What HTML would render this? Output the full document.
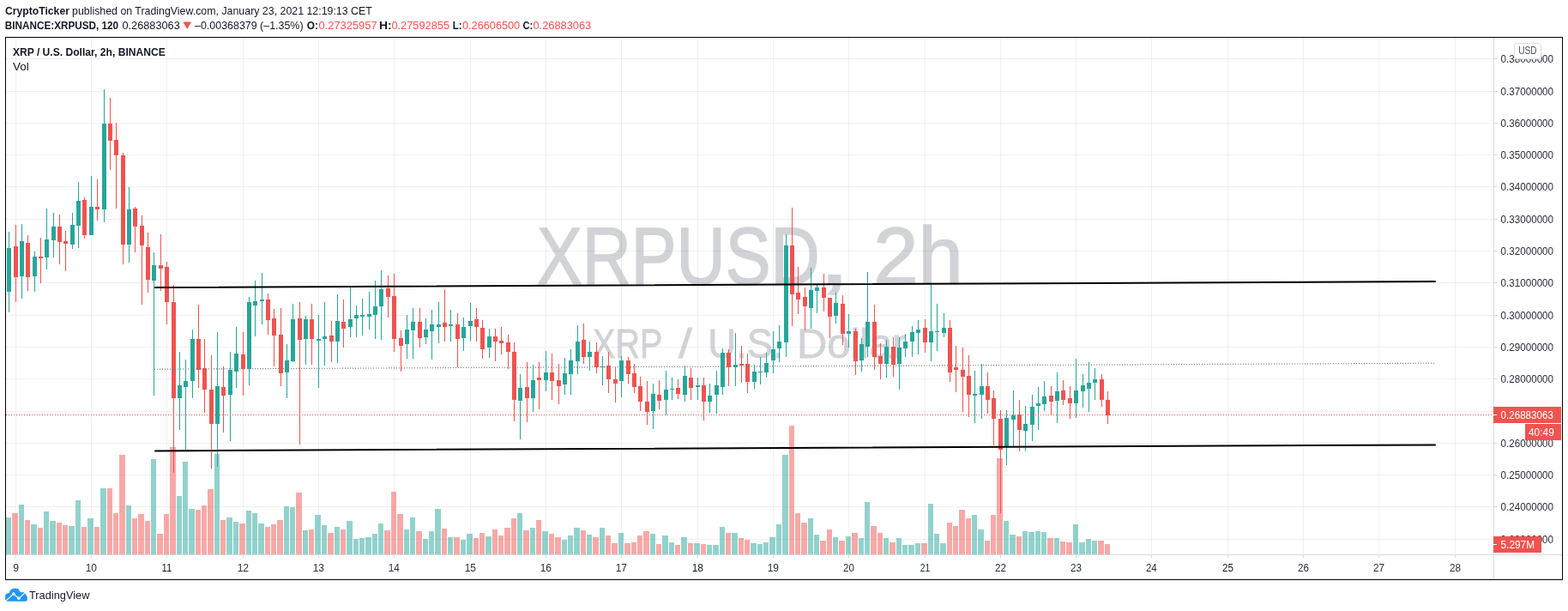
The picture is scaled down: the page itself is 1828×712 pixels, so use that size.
<!DOCTYPE html><html><head><meta charset="utf-8"><title>XRPUSD 2h chart</title>
<style>html,body{margin:0;padding:0;background:#fff;width:1828px;height:712px;overflow:hidden}svg{display:block}text{font-family:'Liberation Sans', Arial, sans-serif}</style></head><body>
<svg width="1828" height="712" viewBox="0 0 1828 712">
<rect x="0" y="0" width="1828" height="712" fill="#ffffff"/>
<text x="6.10" y="17.10" font-size="12.86" fill="#131722" font-weight="bold" textLength="74.78" lengthAdjust="spacingAndGlyphs">CryptoTicker</text>
<text x="84.01" y="17.10" font-size="12.86" fill="#131722" textLength="349.78" lengthAdjust="spacingAndGlyphs">published on TradingView.com, January 23, 2021 12:19:13 CET</text>
<text x="5.82" y="33.70" font-size="12.57" fill="#131722" font-weight="bold" textLength="132.27" lengthAdjust="spacingAndGlyphs">BINANCE:XRPUSD, 120</text>
<text x="142.50" y="33.70" font-size="12.57" fill="#131722" textLength="67.26" lengthAdjust="spacingAndGlyphs">0.26883063</text>
<path d="M213.4 25.6H223L218.2 33.9Z" fill="#ef5350"/>
<text x="227.00" y="33.70" font-size="12.57" fill="#131722" textLength="126.57" lengthAdjust="spacingAndGlyphs">–0.00368379 (–1.35%)</text>
<text x="357.82" y="33.70" font-size="12.57" fill="#131722" font-weight="bold" textLength="13.12" lengthAdjust="spacingAndGlyphs">O:</text>
<text x="371.50" y="33.70" font-size="12.57" fill="#ef5350" textLength="68.15" lengthAdjust="spacingAndGlyphs">0.27325957</text>
<text x="442.07" y="33.70" font-size="12.57" fill="#131722" font-weight="bold" textLength="14.67" lengthAdjust="spacingAndGlyphs">H:</text>
<text x="456.40" y="33.70" font-size="12.57" fill="#ef5350" textLength="67.74" lengthAdjust="spacingAndGlyphs">0.27592855</text>
<text x="527.83" y="33.70" font-size="12.57" fill="#131722" font-weight="bold" textLength="10.88" lengthAdjust="spacingAndGlyphs">L:</text>
<text x="539.00" y="33.70" font-size="12.57" fill="#ef5350" textLength="67.19" lengthAdjust="spacingAndGlyphs">0.26606500</text>
<text x="609.54" y="33.70" font-size="12.57" fill="#131722" font-weight="bold" textLength="11.72" lengthAdjust="spacingAndGlyphs">C:</text>
<text x="621.50" y="33.70" font-size="12.57" fill="#ef5350" textLength="67.66" lengthAdjust="spacingAndGlyphs">0.26883063</text>
<text x="14.89" y="64.80" font-size="12.29" fill="#131722" font-weight="bold" textLength="177.88" lengthAdjust="spacingAndGlyphs">XRP / U.S. Dollar, 2h, BINANCE</text>
<text x="14.94" y="81.60" font-size="12.86" fill="#131722" textLength="18.72" lengthAdjust="spacingAndGlyphs">Vol</text>
<text x="625.92" y="330.90" font-size="95.43" fill="#d2d3d7" textLength="329.66" lengthAdjust="spacingAndGlyphs" stroke="#d2d3d7" stroke-width="1.7">XRPUSD</text>
<text x="954.30" y="330.90" font-size="95.43" fill="#d2d3d7" textLength="36.80" lengthAdjust="spacingAndGlyphs" stroke="#d2d3d7" stroke-width="1.7">,</text>
<text x="1018.17" y="330.90" font-size="95.43" fill="#d2d3d7" textLength="104.53" lengthAdjust="spacingAndGlyphs" stroke="#d2d3d7" stroke-width="1.7">2h</text>
<text x="691.11" y="417.00" font-size="48.71" fill="#d2d3d7" textLength="81.27" lengthAdjust="spacingAndGlyphs" stroke="#d2d3d7" stroke-width="0.8">XRP</text>
<text x="791.00" y="417.00" font-size="48.71" fill="#d2d3d7" textLength="15.90" lengthAdjust="spacingAndGlyphs" stroke="#d2d3d7" stroke-width="0.8">/</text>
<text x="825.29" y="417.00" font-size="48.71" fill="#d2d3d7" textLength="88.46" lengthAdjust="spacingAndGlyphs" stroke="#d2d3d7" stroke-width="0.8">U.S.</text>
<text x="928.99" y="417.00" font-size="48.71" fill="#d2d3d7" textLength="127.62" lengthAdjust="spacingAndGlyphs" stroke="#d2d3d7" stroke-width="0.8">Dollar</text>
<path d="M7 68.5H1741M7 106.5H1741M7 143.5H1741M7 180.5H1741M7 217.5H1741M7 255.5H1741M7 292.5H1741M7 329.5H1741M7 367.5H1741M7 404.5H1741M7 441.5H1741M7 479.5H1741M7 516.5H1741M7 553.5H1741M7 590.5H1741M7 628.5H1741M18.5 44V646M106.5 44V646M194.5 44V646M283.5 44V646M371.5 44V646M459.5 44V646M548.5 44V646M636.5 44V646M724.5 44V646M813.5 44V646M901.5 44V646M989.5 44V646M1078.5 44V646M1166.5 44V646M1254.5 44V646M1342.5 44V646M1431.5 44V646M1519.5 44V646M1607.5 44V646M1696.5 44V646" stroke="rgba(42,46,57,0.07)" stroke-width="1" fill="none"/>
<path d="M7 603H13V646H7ZM22 588H28V646H22ZM36 611H43V646H36ZM51 596H57V646H51ZM58 607H65V646H58ZM80 613H87V646H80ZM88 583H94V646H88ZM102 604H109V646H102ZM117 569H124V646H117ZM147 589H153V646H147ZM176 535H182V646H176ZM206 578H212V646H206ZM213 538H219V646H213ZM220 593H227V646H220ZM250 529H256V646H250ZM264 603H271V646H264ZM272 608H278V646H272ZM287 595H293V646H287ZM294 598H300V646H294ZM301 610H308V646H301ZM331 590H337V646H331ZM338 591H344V646H338ZM353 618H359V646H353ZM367 600H374V646H367ZM375 612H381V646H375ZM390 614H396V646H390ZM404 607H411V646H404ZM412 628H418V646H412ZM419 627H425V646H419ZM426 626H433V646H426ZM434 622H440V646H434ZM441 610H447V646H441ZM471 617H477V646H471ZM478 603H484V646H478ZM493 628H499V646H493ZM500 619H506V646H500ZM507 593H514V646H507ZM522 626H528V646H522ZM537 629H543V646H537ZM544 622H551V646H544ZM566 625H573V646H566ZM603 598H609V646H603ZM618 615H624V646H618ZM632 619H639V646H632ZM655 629H661V646H655ZM662 624H668V646H662ZM669 615H676V646H669ZM684 623H690V646H684ZM699 615H705V646H699ZM721 621H727V646H721ZM758 622H764V646H758ZM772 624H779V646H772ZM780 632H786V646H780ZM794 626H801V646H794ZM809 633H816V646H809ZM824 635H830V646H824ZM831 635H838V646H831ZM839 614H845V646H839ZM853 621H860V646H853ZM875 633H882V646H875ZM883 634H889V646H883ZM890 632H896V646H890ZM897 626H904V646H897ZM905 611H911V646H905ZM912 530H919V646H912ZM942 604H948V646H942ZM949 623H955V646H949ZM971 626H977V646H971ZM986 625H992V646H986ZM1001 627H1007V646H1001ZM1008 585H1014V646H1008ZM1030 627H1036V646H1030ZM1045 627H1051V646H1045ZM1052 635H1058V646H1052ZM1059 635H1066V646H1059ZM1067 633H1073V646H1067ZM1082 587H1088V646H1082ZM1089 622H1095V646H1089ZM1096 633H1103V646H1096ZM1133 600H1139V646H1133ZM1140 617H1147V646H1140ZM1170 607H1176V646H1170ZM1177 623H1184V646H1177ZM1192 619H1198V646H1192ZM1199 620H1206V646H1199ZM1207 619H1213V646H1207ZM1214 620H1220V646H1214ZM1229 627H1235V646H1229ZM1251 611H1257V646H1251ZM1258 632H1265V646H1258ZM1266 628H1272V646H1266ZM1273 630H1279V646H1273Z" fill="rgba(38,166,154,0.5)"/>
<path d="M14 598H21V646H14ZM29 606H35V646H29ZM44 615H50V646H44ZM66 609H72V646H66ZM73 612H79V646H73ZM95 614H101V646H95ZM110 614H116V646H110ZM125 569H131V646H125ZM132 598H138V646H132ZM139 530H146V646H139ZM154 604H160V646H154ZM161 599H168V646H161ZM169 607H175V646H169ZM183 622H190V646H183ZM191 599H197V646H191ZM198 521H205V646H198ZM228 594H234V646H228ZM235 589H241V646H235ZM242 570H249V646H242ZM257 606H263V646H257ZM279 610H286V646H279ZM309 614H315V646H309ZM316 611H322V646H316ZM323 606H330V646H323ZM345 574H352V646H345ZM360 617H366V646H360ZM382 621H389V646H382ZM397 617H403V646H397ZM448 618H455V646H448ZM456 573H462V646H456ZM463 599H470V646H463ZM485 619H492V646H485ZM515 616H521V646H515ZM529 626H536V646H529ZM552 627H558V646H552ZM559 621H565V646H559ZM574 617H580V646H574ZM581 624H587V646H581ZM588 615H595V646H588ZM596 604H602V646H596ZM610 618H617V646H610ZM625 606H631V646H625ZM640 622H646V646H640ZM647 626H654V646H647ZM677 618H683V646H677ZM691 626H698V646H691ZM706 624H712V646H706ZM713 633H720V646H713ZM728 633H735V646H728ZM736 632H742V646H736ZM743 624H749V646H743ZM750 619H757V646H750ZM765 634H771V646H765ZM787 635H793V646H787ZM802 633H808V646H802ZM817 634H823V646H817ZM846 621H852V646H846ZM861 627H867V646H861ZM868 629H874V646H868ZM920 496H926V646H920ZM927 598H933V646H927ZM934 609H941V646H934ZM956 630H963V646H956ZM964 617H970V646H964ZM978 630H985V646H978ZM993 621H1000V646H993ZM1015 613H1022V646H1015ZM1023 621H1029V646H1023ZM1037 632H1044V646H1037ZM1074 633H1081V646H1074ZM1104 609H1110V646H1104ZM1111 613H1117V646H1111ZM1118 594H1125V646H1118ZM1126 604H1132V646H1126ZM1148 630H1154V646H1148ZM1155 600H1161V646H1155ZM1162 534H1169V646H1162ZM1185 625H1191V646H1185ZM1221 627H1228V646H1221ZM1236 631H1242V646H1236ZM1243 632H1250V646H1243ZM1280 630H1287V646H1280ZM1288 634H1294V646H1288Z" fill="rgba(239,83,80,0.5)"/>
<path d="M10 270h1V289h-1ZM8 289h5V340h-5ZM10 340h1V364h-1ZM25 261h1V281h-1ZM23 281h5V322h-5ZM25 322h1V348h-1ZM40 293h1V299h-1ZM38 299h5V322h-5ZM40 322h1V340h-1ZM54 243h1V279h-1ZM52 279h5V300h-5ZM54 300h1V314h-1ZM62 248h1V264h-1ZM60 264h5V280h-5ZM62 280h1V300h-1ZM84 248h1V262h-1ZM82 262h5V285h-5ZM84 285h1V290h-1ZM91 212h1V234h-1ZM89 234h5V263h-5ZM91 263h1V289h-1ZM106 205h1V241h-1ZM104 241h5V274h-5ZM121 104h1V144h-1ZM119 144h5V244h-5ZM121 244h1V259h-1ZM150 218h1V244h-1ZM148 244h5V285h-5ZM150 285h1V306h-1ZM179 294h1V309h-1ZM177 309h5V327h-5ZM179 327h1V461h-1ZM209 410h1V449h-1ZM207 449h5V464h-5ZM209 464h1V501h-1ZM216 419h1V444h-1ZM214 444h5V451h-5ZM216 451h1V525h-1ZM224 384h1V395h-1ZM222 395h5V444h-5ZM224 444h1V464h-1ZM253 387h1V450h-1ZM251 450h5V494h-5ZM253 494h1V544h-1ZM268 410h1V431h-1ZM266 431h5V460h-5ZM268 460h1V514h-1ZM275 381h1V412h-1ZM273 412h5V433h-5ZM275 433h1V452h-1ZM290 346h1V352h-1ZM288 352h5V430h-5ZM290 430h1V449h-1ZM297 327h1V351h-1ZM295 351h5V356h-5ZM297 356h1V392h-1ZM305 318h1V349h-1ZM303 349h5V351h-5ZM305 351h1V378h-1ZM334 401h1V420h-1ZM332 420h5V434h-5ZM334 434h1V464h-1ZM341 354h1V372h-1ZM339 372h5V421h-5ZM341 421h1V422h-1ZM356 368h1V372h-1ZM354 372h5V395h-5ZM356 395h1V425h-1ZM371 367h1V395h-1ZM369 395h5V397h-5ZM371 397h1V452h-1ZM378 352h1V392h-1ZM376 392h5V395h-5ZM378 395h1V426h-1ZM393 343h1V374h-1ZM391 374h5V398h-5ZM393 398h1V423h-1ZM408 335h1V372h-1ZM406 372h5V381h-5ZM408 381h1V393h-1ZM415 356h1V367h-1ZM413 367h5V371h-5ZM415 371h1V393h-1ZM422 348h1V367h-1ZM420 367h5V369h-5ZM422 369h1V391h-1ZM430 340h1V366h-1ZM428 366h5V369h-5ZM430 369h1V384h-1ZM437 327h1V357h-1ZM435 357h5V367h-5ZM437 367h1V395h-1ZM444 315h1V337h-1ZM442 337h5V357h-5ZM444 357h1V396h-1ZM474 367h1V384h-1ZM472 384h5V401h-5ZM474 401h1V418h-1ZM481 359h1V375h-1ZM479 375h5V385h-5ZM481 385h1V418h-1ZM496 371h1V384h-1ZM494 384h5V393h-5ZM496 393h1V401h-1ZM503 361h1V378h-1ZM501 378h5V386h-5ZM503 386h1V419h-1ZM511 352h1V378h-1ZM509 378h5V381h-5ZM511 381h1V400h-1ZM525 361h1V378h-1ZM523 378h5V380h-5ZM525 380h1V398h-1ZM540 370h1V381h-1ZM538 381h5V394h-5ZM540 394h1V409h-1ZM548 353h1V374h-1ZM546 374h5V380h-5ZM548 380h1V397h-1ZM570 383h1V392h-1ZM568 392h5V405h-5ZM570 405h1V417h-1ZM606 436h1V452h-1ZM604 452h5V467h-5ZM606 467h1V512h-1ZM621 425h1V443h-1ZM619 443h5V464h-5ZM621 464h1V480h-1ZM636 409h1V434h-1ZM634 434h5V443h-5ZM636 443h1V456h-1ZM658 417h1V435h-1ZM656 435h5V448h-5ZM658 448h1V460h-1ZM665 407h1V420h-1ZM663 420h5V436h-5ZM665 436h1V460h-1ZM673 379h1V398h-1ZM671 398h5V421h-5ZM673 421h1V436h-1ZM687 398h1V410h-1ZM685 410h5V416h-5ZM687 416h1V432h-1ZM702 415h1V427h-1ZM700 427h5V428h-5ZM702 428h1V449h-1ZM724 415h1V420h-1ZM722 420h5V444h-5ZM724 444h1V463h-1ZM761 447h1V459h-1ZM759 459h5V479h-5ZM761 479h1V500h-1ZM776 432h1V454h-1ZM774 454h5V466h-5ZM776 466h1V484h-1ZM783 440h1V453h-1ZM781 453h5V454h-5ZM783 454h1V466h-1ZM798 426h1V438h-1ZM796 438h5V460h-5ZM798 460h1V468h-1ZM813 440h1V449h-1ZM811 449h5V451h-5ZM813 451h1V466h-1ZM827 447h1V461h-1ZM825 461h5V468h-5ZM827 468h1V481h-1ZM835 432h1V449h-1ZM833 449h5V460h-5ZM835 460h1V482h-1ZM842 406h1V411h-1ZM840 411h5V451h-5ZM842 451h1V460h-1ZM857 388h1V425h-1ZM855 425h5V428h-5ZM857 428h1V450h-1ZM879 425h1V433h-1ZM877 433h5V445h-5ZM879 445h1V453h-1ZM886 416h1V433h-1ZM884 433h5V434h-5ZM886 434h1V448h-1ZM893 411h1V423h-1ZM891 423h5V434h-5ZM893 434h1V440h-1ZM901 386h1V407h-1ZM899 407h5V420h-5ZM901 420h1V435h-1ZM908 379h1V398h-1ZM906 398h5V406h-5ZM908 406h1V422h-1ZM916 273h1V286h-1ZM914 286h5V399h-5ZM916 399h1V416h-1ZM945 312h1V338h-1ZM943 338h5V359h-5ZM945 359h1V383h-1ZM952 332h1V335h-1ZM950 335h5V339h-5ZM952 339h1V365h-1ZM974 341h1V353h-1ZM972 353h5V368h-5ZM974 368h1V377h-1ZM989 366h1V386h-1ZM987 386h5V389h-5ZM989 389h1V405h-1ZM1004 394h1V401h-1ZM1002 401h5V420h-5ZM1004 420h1V433h-1ZM1011 317h1V375h-1ZM1009 375h5V404h-5ZM1011 404h1V416h-1ZM1033 396h1V404h-1ZM1031 404h5V424h-5ZM1033 424h1V440h-1ZM1048 393h1V405h-1ZM1046 405h5V424h-5ZM1048 424h1V454h-1ZM1055 389h1V398h-1ZM1053 398h5V406h-5ZM1055 406h1V416h-1ZM1063 380h1V387h-1ZM1061 387h5V398h-5ZM1063 398h1V416h-1ZM1070 373h1V384h-1ZM1068 384h5V388h-5ZM1070 388h1V413h-1ZM1085 330h1V386h-1ZM1083 386h5V399h-5ZM1085 399h1V421h-1ZM1092 354h1V386h-1ZM1090 386h5V387h-5ZM1092 387h1V409h-1ZM1100 365h1V382h-1ZM1098 382h5V388h-5ZM1100 388h1V393h-1ZM1136 432h1V459h-1ZM1134 459h5V461h-5ZM1136 461h1V493h-1ZM1144 424h1V450h-1ZM1142 450h5V460h-5ZM1144 460h1V488h-1ZM1173 478h1V487h-1ZM1171 487h5V520h-5ZM1173 520h1V542h-1ZM1181 455h1V484h-1ZM1179 484h5V489h-5ZM1181 489h1V520h-1ZM1195 473h1V494h-1ZM1193 494h5V502h-5ZM1195 502h1V526h-1ZM1203 460h1V474h-1ZM1201 474h5V495h-5ZM1203 495h1V514h-1ZM1210 451h1V470h-1ZM1208 470h5V473h-5ZM1210 473h1V501h-1ZM1217 444h1V462h-1ZM1215 462h5V471h-5ZM1217 471h1V479h-1ZM1232 434h1V456h-1ZM1230 456h5V467h-5ZM1232 467h1V493h-1ZM1254 418h1V455h-1ZM1252 455h5V470h-5ZM1254 470h1V487h-1ZM1262 436h1V449h-1ZM1260 449h5V456h-5ZM1262 456h1V475h-1ZM1269 422h1V446h-1ZM1267 446h5V453h-5ZM1269 453h1V480h-1ZM1276 429h1V442h-1ZM1274 442h5V446h-5ZM1276 446h1V466h-1Z" fill="#26a69a"/>
<path d="M18 262h1V287h-1ZM16 287h5V323h-5ZM18 323h1V352h-1ZM32 274h1V283h-1ZM30 283h5V323h-5ZM32 323h1V339h-1ZM47 277h1V299h-1ZM45 299h5V301h-5ZM47 301h1V330h-1ZM69 250h1V264h-1ZM67 264h5V282h-5ZM69 282h1V308h-1ZM76 269h1V281h-1ZM74 281h5V284h-5ZM76 284h1V316h-1ZM98 230h1V233h-1ZM96 233h5V274h-5ZM98 274h1V278h-1ZM113 209h1V241h-1ZM111 241h5V244h-5ZM113 244h1V257h-1ZM128 114h1V144h-1ZM126 144h5V164h-5ZM128 164h1V198h-1ZM135 143h1V163h-1ZM133 163h5V181h-5ZM135 181h1V243h-1ZM143 178h1V181h-1ZM141 181h5V285h-5ZM143 285h1V308h-1ZM157 241h1V243h-1ZM155 243h5V264h-5ZM157 264h1V294h-1ZM165 251h1V263h-1ZM163 263h5V286h-5ZM165 286h1V355h-1ZM172 271h1V288h-1ZM170 288h5V326h-5ZM172 326h1V341h-1ZM187 273h1V309h-1ZM185 309h5V313h-5ZM187 313h1V339h-1ZM194 305h1V311h-1ZM192 311h5V352h-5ZM194 352h1V378h-1ZM202 332h1V352h-1ZM200 352h5V464h-5ZM202 464h1V551h-1ZM231 355h1V395h-1ZM229 395h5V431h-5ZM231 431h1V452h-1ZM238 395h1V429h-1ZM236 429h5V454h-5ZM238 454h1V481h-1ZM246 414h1V454h-1ZM244 454h5V494h-5ZM246 494h1V546h-1ZM260 427h1V451h-1ZM258 451h5V461h-5ZM260 461h1V504h-1ZM283 387h1V413h-1ZM281 413h5V430h-5ZM283 430h1V461h-1ZM312 342h1V349h-1ZM310 349h5V373h-5ZM312 373h1V390h-1ZM319 360h1V371h-1ZM317 371h5V391h-5ZM319 391h1V427h-1ZM327 359h1V390h-1ZM325 390h5V435h-5ZM327 435h1V450h-1ZM349 352h1V371h-1ZM347 371h5V396h-5ZM349 396h1V518h-1ZM363 354h1V372h-1ZM361 372h5V395h-5ZM363 395h1V425h-1ZM386 374h1V391h-1ZM384 391h5V398h-5ZM386 398h1V422h-1ZM400 349h1V375h-1ZM398 375h5V383h-5ZM400 383h1V405h-1ZM452 321h1V336h-1ZM450 336h5V346h-5ZM452 346h1V370h-1ZM459 319h1V345h-1ZM457 345h5V395h-5ZM459 395h1V410h-1ZM467 385h1V394h-1ZM465 394h5V403h-5ZM467 403h1V433h-1ZM489 359h1V375h-1ZM487 375h5V394h-5ZM489 394h1V405h-1ZM518 337h1V376h-1ZM516 376h5V381h-5ZM518 381h1V398h-1ZM533 365h1V378h-1ZM531 378h5V395h-5ZM533 395h1V428h-1ZM555 359h1V372h-1ZM553 372h5V381h-5ZM555 381h1V398h-1ZM562 373h1V382h-1ZM560 382h5V407h-5ZM562 407h1V418h-1ZM577 383h1V392h-1ZM575 392h5V398h-5ZM577 398h1V421h-1ZM584 381h1V397h-1ZM582 397h5V400h-5ZM584 400h1V413h-1ZM592 390h1V399h-1ZM590 399h5V410h-5ZM592 410h1V430h-1ZM599 399h1V410h-1ZM597 410h5V466h-5ZM599 466h1V491h-1ZM614 422h1V451h-1ZM612 451h5V464h-5ZM614 464h1V492h-1ZM628 422h1V440h-1ZM626 440h5V443h-5ZM628 443h1V477h-1ZM643 412h1V434h-1ZM641 434h5V444h-5ZM643 444h1V466h-1ZM651 424h1V443h-1ZM649 443h5V450h-5ZM651 450h1V471h-1ZM680 377h1V396h-1ZM678 396h5V416h-5ZM680 416h1V424h-1ZM695 399h1V410h-1ZM693 410h5V428h-5ZM695 428h1V435h-1ZM709 410h1V426h-1ZM707 426h5V442h-5ZM709 442h1V458h-1ZM717 428h1V442h-1ZM715 442h5V447h-5ZM717 447h1V469h-1ZM732 416h1V420h-1ZM730 420h5V436h-5ZM732 436h1V447h-1ZM739 424h1V435h-1ZM737 435h5V451h-5ZM739 451h1V458h-1ZM746 439h1V450h-1ZM744 450h5V468h-5ZM746 468h1V479h-1ZM754 444h1V468h-1ZM752 468h5V480h-5ZM754 480h1V495h-1ZM768 443h1V460h-1ZM766 460h5V467h-5ZM768 467h1V477h-1ZM790 442h1V452h-1ZM788 452h5V459h-5ZM790 459h1V465h-1ZM805 429h1V440h-1ZM803 440h5V452h-5ZM805 452h1V466h-1ZM820 440h1V449h-1ZM818 449h5V468h-5ZM820 468h1V490h-1ZM849 407h1V411h-1ZM847 411h5V428h-5ZM849 428h1V450h-1ZM864 403h1V424h-1ZM862 424h5V426h-5ZM864 426h1V446h-1ZM871 412h1V424h-1ZM869 424h5V445h-5ZM871 445h1V458h-1ZM923 242h1V286h-1ZM921 286h5V343h-5ZM923 343h1V380h-1ZM930 311h1V341h-1ZM928 341h5V349h-5ZM930 349h1V366h-1ZM938 335h1V346h-1ZM936 346h5V357h-5ZM938 357h1V385h-1ZM960 319h1V335h-1ZM958 335h5V347h-5ZM960 347h1V363h-1ZM965 347h5V369h-5ZM967 369h1V394h-1ZM982 344h1V354h-1ZM980 354h5V389h-5ZM982 389h1V402h-1ZM997 383h1V386h-1ZM995 386h5V421h-5ZM997 421h1V437h-1ZM1019 355h1V375h-1ZM1017 375h5V416h-5ZM1019 416h1V431h-1ZM1026 400h1V415h-1ZM1024 415h5V424h-5ZM1026 424h1V442h-1ZM1041 393h1V404h-1ZM1039 404h5V425h-5ZM1041 425h1V439h-1ZM1078 372h1V382h-1ZM1076 382h5V399h-5ZM1078 399h1V411h-1ZM1107 373h1V382h-1ZM1105 382h5V434h-5ZM1107 434h1V445h-1ZM1114 403h1V428h-1ZM1112 428h5V431h-5ZM1114 431h1V457h-1ZM1122 405h1V431h-1ZM1120 431h5V439h-5ZM1122 439h1V480h-1ZM1129 414h1V438h-1ZM1127 438h5V460h-5ZM1129 460h1V486h-1ZM1151 434h1V450h-1ZM1149 450h5V466h-5ZM1151 466h1V482h-1ZM1158 455h1V464h-1ZM1156 464h5V488h-5ZM1158 488h1V519h-1ZM1166 478h1V488h-1ZM1164 488h5V524h-5ZM1166 524h1V598h-1ZM1188 466h1V483h-1ZM1186 483h5V501h-5ZM1188 501h1V526h-1ZM1225 450h1V461h-1ZM1223 461h5V468h-5ZM1225 468h1V484h-1ZM1239 443h1V455h-1ZM1237 455h5V466h-5ZM1239 466h1V472h-1ZM1247 450h1V464h-1ZM1245 464h5V470h-5ZM1247 470h1V488h-1ZM1284 436h1V442h-1ZM1282 442h5V466h-5ZM1284 466h1V474h-1ZM1291 456h1V466h-1ZM1289 466h5V484h-5ZM1291 484h1V494h-1Z" fill="#ef5350"/>
<path d="M7 483.5H1741" stroke="#ef5350" stroke-width="1" stroke-dasharray="1 2" fill="none"/>
<path d="M180 430.2L1674 423.2" stroke="#787b86" stroke-width="1.1" stroke-dasharray="1.1 1.9" fill="none"/>
<path d="M181 335L1673 328M181 525.4L1673 518.4" stroke="#000" stroke-width="2" stroke-linecap="round" fill="none"/>
<path d="M1741.5 44V675" stroke="#dadbdf" stroke-width="1"/>
<path d="M7 646.5H1821" stroke="#dadbdf" stroke-width="1"/>
<path d="M1742 68.5H1746M1742 106.5H1746M1742 143.5H1746M1742 180.5H1746M1742 217.5H1746M1742 255.5H1746M1742 292.5H1746M1742 329.5H1746M1742 367.5H1746M1742 404.5H1746M1742 441.5H1746M1742 479.5H1746M1742 516.5H1746M1742 553.5H1746M1742 590.5H1746M1742 628.5H1746M18.5 647V650M106.5 647V650M194.5 647V650M283.5 647V650M371.5 647V650M459.5 647V650M548.5 647V650M636.5 647V650M724.5 647V650M813.5 647V650M901.5 647V650M989.5 647V650M1078.5 647V650M1166.5 647V650M1254.5 647V650M1342.5 647V650M1431.5 647V650M1519.5 647V650M1607.5 647V650M1696.5 647V650" stroke="#dadbdf" stroke-width="1"/>
<text x="1749.55" y="73.00" font-size="12.57" fill="#2a2e39" textLength="61.51" lengthAdjust="spacingAndGlyphs">0.38000000</text>
<text x="1749.55" y="111.00" font-size="12.57" fill="#2a2e39" textLength="61.51" lengthAdjust="spacingAndGlyphs">0.37000000</text>
<text x="1749.55" y="148.00" font-size="12.57" fill="#2a2e39" textLength="61.51" lengthAdjust="spacingAndGlyphs">0.36000000</text>
<text x="1749.55" y="185.00" font-size="12.57" fill="#2a2e39" textLength="61.51" lengthAdjust="spacingAndGlyphs">0.35000000</text>
<text x="1749.55" y="222.00" font-size="12.57" fill="#2a2e39" textLength="61.51" lengthAdjust="spacingAndGlyphs">0.34000000</text>
<text x="1749.55" y="260.00" font-size="12.57" fill="#2a2e39" textLength="61.51" lengthAdjust="spacingAndGlyphs">0.33000000</text>
<text x="1749.55" y="297.00" font-size="12.57" fill="#2a2e39" textLength="61.51" lengthAdjust="spacingAndGlyphs">0.32000000</text>
<text x="1749.55" y="334.00" font-size="12.57" fill="#2a2e39" textLength="61.51" lengthAdjust="spacingAndGlyphs">0.31000000</text>
<text x="1749.55" y="372.00" font-size="12.57" fill="#2a2e39" textLength="61.51" lengthAdjust="spacingAndGlyphs">0.30000000</text>
<text x="1749.55" y="409.00" font-size="12.57" fill="#2a2e39" textLength="61.51" lengthAdjust="spacingAndGlyphs">0.29000000</text>
<text x="1749.55" y="446.00" font-size="12.57" fill="#2a2e39" textLength="61.51" lengthAdjust="spacingAndGlyphs">0.28000000</text>
<text x="1749.55" y="521.00" font-size="12.57" fill="#2a2e39" textLength="61.51" lengthAdjust="spacingAndGlyphs">0.26000000</text>
<text x="1749.55" y="558.00" font-size="12.57" fill="#2a2e39" textLength="61.51" lengthAdjust="spacingAndGlyphs">0.25000000</text>
<text x="1749.55" y="595.00" font-size="12.57" fill="#2a2e39" textLength="61.51" lengthAdjust="spacingAndGlyphs">0.24000000</text>
<text x="1749.55" y="633.00" font-size="12.57" fill="#2a2e39" textLength="61.51" lengthAdjust="spacingAndGlyphs">0.23000000</text>
<text x="15.13" y="665.90" font-size="12.57" fill="#2a2e39" textLength="6.74" lengthAdjust="spacingAndGlyphs">9</text>
<text x="99.64" y="665.90" font-size="12.57" fill="#2a2e39" textLength="13.28" lengthAdjust="spacingAndGlyphs">10</text>
<text x="188.44" y="665.90" font-size="12.57" fill="#131722" textLength="11.83" lengthAdjust="spacingAndGlyphs">11</text>
<text x="276.63" y="665.90" font-size="12.57" fill="#2a2e39" textLength="13.43" lengthAdjust="spacingAndGlyphs">12</text>
<text x="364.64" y="665.90" font-size="12.57" fill="#2a2e39" textLength="13.34" lengthAdjust="spacingAndGlyphs">13</text>
<text x="452.65" y="665.90" font-size="12.57" fill="#2a2e39" textLength="13.15" lengthAdjust="spacingAndGlyphs">14</text>
<text x="541.64" y="665.90" font-size="12.57" fill="#2a2e39" textLength="13.31" lengthAdjust="spacingAndGlyphs">15</text>
<text x="629.64" y="665.90" font-size="12.57" fill="#2a2e39" textLength="13.34" lengthAdjust="spacingAndGlyphs">16</text>
<text x="717.63" y="665.90" font-size="12.57" fill="#2a2e39" textLength="13.43" lengthAdjust="spacingAndGlyphs">17</text>
<text x="806.64" y="665.90" font-size="12.57" fill="#131722" textLength="13.33" lengthAdjust="spacingAndGlyphs">18</text>
<text x="894.63" y="665.90" font-size="12.57" fill="#2a2e39" textLength="13.39" lengthAdjust="spacingAndGlyphs">19</text>
<text x="982.96" y="665.90" font-size="12.57" fill="#2a2e39" textLength="12.94" lengthAdjust="spacingAndGlyphs">20</text>
<text x="1072.73" y="665.90" font-size="12.57" fill="#2a2e39" textLength="11.53" lengthAdjust="spacingAndGlyphs">21</text>
<text x="1159.96" y="665.90" font-size="12.57" fill="#2a2e39" textLength="13.08" lengthAdjust="spacingAndGlyphs">22</text>
<text x="1247.96" y="665.90" font-size="12.57" fill="#2a2e39" textLength="13.00" lengthAdjust="spacingAndGlyphs">23</text>
<text x="1335.97" y="665.90" font-size="12.57" fill="#2a2e39" textLength="12.82" lengthAdjust="spacingAndGlyphs">24</text>
<text x="1424.96" y="665.90" font-size="12.57" fill="#131722" textLength="12.98" lengthAdjust="spacingAndGlyphs">25</text>
<text x="1512.96" y="665.90" font-size="12.57" fill="#2a2e39" textLength="13.00" lengthAdjust="spacingAndGlyphs">26</text>
<text x="1600.96" y="665.90" font-size="12.57" fill="#2a2e39" textLength="13.08" lengthAdjust="spacingAndGlyphs">27</text>
<text x="1689.96" y="665.90" font-size="12.57" fill="#2a2e39" textLength="13.00" lengthAdjust="spacingAndGlyphs">28</text>
<rect x="1765.5" y="50.5" width="31" height="18" rx="3" fill="#fff" stroke="#dadbdf" stroke-width="1"/>
<text x="1770.22" y="63.00" font-size="12.86" fill="#50535e" textLength="21.47" lengthAdjust="spacingAndGlyphs">USD</text>
<rect x="1741" y="474" width="79" height="19" fill="#ef5350"/>
<path d="M1741 483.5H1745" stroke="#fff" stroke-width="1"/>
<text x="1749.55" y="487.80" font-size="12.29" fill="#fff" textLength="61.36" lengthAdjust="spacingAndGlyphs">0.26883063</text>
<rect x="1778" y="494" width="42" height="19" fill="#ef5350"/>
<text x="1781.93" y="508.10" font-size="12.29" fill="#fff" textLength="29.84" lengthAdjust="spacingAndGlyphs">40:49</text>
<rect x="1741" y="625" width="56" height="19" fill="#ef5350"/>
<path d="M1741 634.5H1745" stroke="#fff" stroke-width="1"/>
<text x="1749.53" y="639.10" font-size="12.57" fill="#fff" textLength="39.55" lengthAdjust="spacingAndGlyphs">5.297M</text>
<rect x="6.5" y="43.5" width="1815" height="632" fill="none" stroke="#000" stroke-width="1"/>
<path d="M6.1 698.2V694.4C6.1 692.6 7.6 691.4 9.6 691.2L10.9 691.1C11.3 688.1 13.4 685.8 16.4 685.8H19.2C21.1 685.8 22.4 687.3 23.3 689.5L24.1 690.3H27.3C28.3 690.3 29 690.9 29.6 691.9L31.8 695.4V698.8C31.8 699.9 31 700.7 30 700.7H8.6C7.3 700.7 6.1 699.5 6.1 698.2Z" fill="#2196f3"/>
<path d="M6.8 700.1L15.8 692L22 697.5L30.2 689.6" stroke="#fff" stroke-width="1.1" fill="none"/>
<circle cx="15.8" cy="692" r="1.7" fill="#fff"/><circle cx="22" cy="697.3" r="1.8" fill="#fff"/>
<text x="34.02" y="698.00" font-size="12.71" fill="#131722" textLength="70.35" lengthAdjust="spacingAndGlyphs">TradingView</text>
</svg></body></html>
